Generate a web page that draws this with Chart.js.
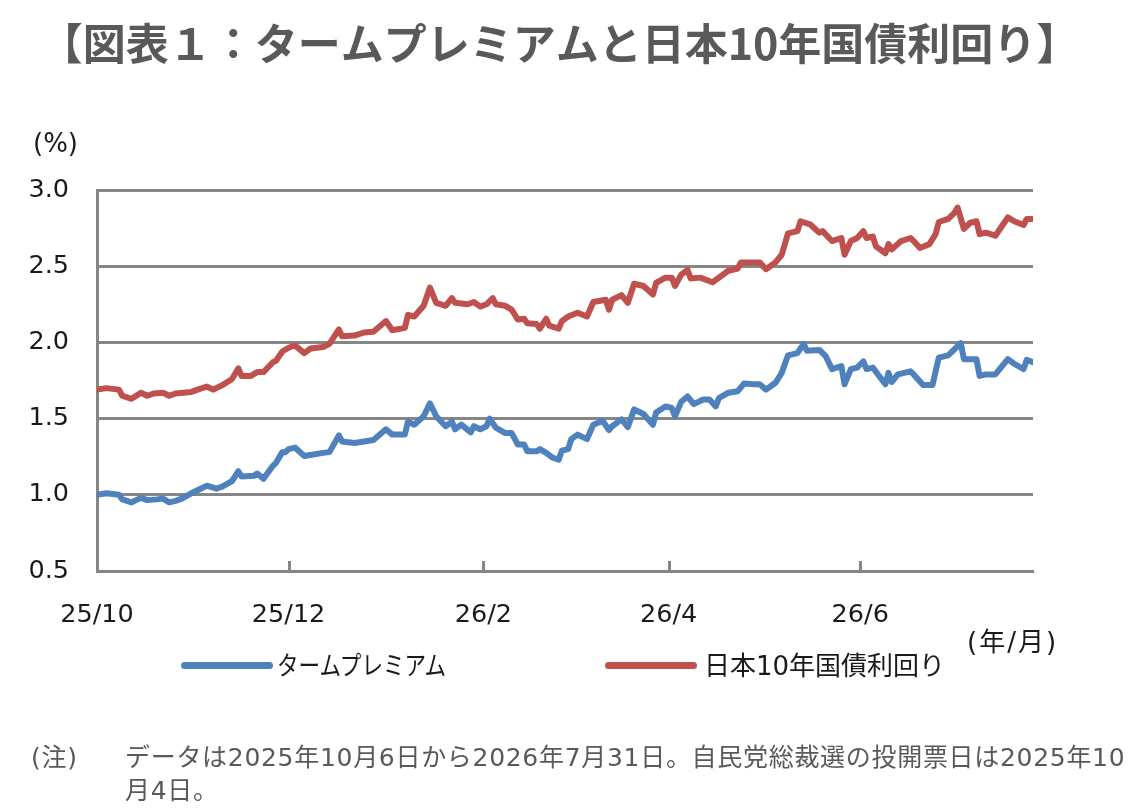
<!DOCTYPE html>
<html lang="ja">
<head>
<meta charset="utf-8">
<script src="https://cdn.jsdelivr.net/npm/chart.js@4.4.1/dist/chart.umd.min.js"></script>
<style>
html,body{margin:0;padding:0;background:#fff;}
#wrap{position:relative;width:1135px;height:808px;overflow:hidden;background:#fff;}
#chart{position:absolute;left:0;top:0;}
.t{position:absolute;white-space:nowrap;line-height:1;font-family:"DejaVu Sans","Noto Sans CJK JP",sans-serif;color:#1a1a1a;}
.unit{font-size:26px;}
.note{font-size:25px;color:#595959;letter-spacing:0.7px;}
.lgbar{position:absolute;height:7px;width:92px;border-radius:3.5px;top:662px;}
.lgtxt{font-size:26px;top:653px;transform-origin:left center;}
</style>
</head>
<body>
<div id="wrap">
<canvas id="chart" width="1135" height="808"></canvas>
<div class="t unit" style="left:33px;top:130px;">(%)</div>
<div class="t unit" style="left:967px;top:629px;letter-spacing:2px;">(年/月)</div>
<div id="legend"></div>
<div class="t note" style="left:31px;top:745px;">(注)</div>
<div class="t note" style="left:125px;top:745px;">データは2025年10月6日から2026年7月31日。自民党総裁選の投開票日は2025年10</div>
<div class="t note" style="left:125px;top:778px;">月4日。</div>
</div>
<script>
// ---- data (days counted from 2025-10-06) ----
const seriesNames = ['タームプレミアム', '日本10年国債利回り'];
const tickDays = [0, 61, 123, 182, 243];
const tickLabels = ['25/10', '25/12', '26/2', '26/4', '26/6'];
const yTickValues = [0.5, 1.0, 1.5, 2.0, 2.5, 3.0];

const tpDays = [
  0, 3, 7, 8, 11, 14, 16, 19, 21, 23,
  25, 27, 30, 33, 35, 38, 40, 43, 45, 46,
  50, 51, 53, 56, 57, 59, 60, 61, 63, 66,
  72, 74, 77, 78, 82, 85, 88, 92, 94, 98,
  99, 101, 104, 106, 108, 111, 113, 114, 116, 119,
  120, 122, 124, 125, 127, 130, 132, 134, 136, 137,
  140, 141, 143, 145, 147, 148, 150, 151, 153, 156,
  158, 161, 163, 164, 167, 169, 171, 174, 177, 178,
  181, 183, 184, 186, 188, 190, 193, 195, 197, 198,
  201, 204, 206, 209, 211, 213, 216, 218, 220, 223,
  225, 226, 230, 232, 234, 237, 238, 240, 242, 244,
  245, 247, 249, 251, 252, 253, 255, 259, 260, 263,
  266, 267, 268, 271, 273, 275, 276, 280, 281, 283,
  286, 290, 292, 295, 296, 298
];
const tpValues = [
  1.00, 1.01, 1.00, 0.97, 0.95, 0.98, 0.965, 0.97, 0.975, 0.95,
  0.96, 0.975, 1.01, 1.04, 1.06, 1.04, 1.055, 1.09, 1.155, 1.12,
  1.125, 1.14, 1.105, 1.19, 1.21, 1.28, 1.28, 1.30, 1.31, 1.255,
  1.275, 1.28, 1.39, 1.35, 1.34, 1.35, 1.36, 1.43, 1.395, 1.395,
  1.48, 1.46, 1.515, 1.60, 1.515, 1.45, 1.48, 1.43, 1.46, 1.41,
  1.45, 1.43, 1.45, 1.50, 1.44, 1.405, 1.405, 1.33, 1.33, 1.285,
  1.285, 1.30, 1.275, 1.245, 1.23, 1.29, 1.30, 1.365, 1.395, 1.365,
  1.46, 1.485, 1.425, 1.45, 1.495, 1.445, 1.56, 1.53, 1.46, 1.54,
  1.58, 1.57, 1.515, 1.61, 1.645, 1.595, 1.625, 1.625, 1.58, 1.635,
  1.67, 1.68, 1.73, 1.725, 1.725, 1.69, 1.735, 1.80, 1.915, 1.93,
  1.99, 1.945, 1.95, 1.91, 1.825, 1.845, 1.725, 1.825, 1.835, 1.875,
  1.825, 1.835, 1.78, 1.725, 1.80, 1.74, 1.79, 1.81, 1.79, 1.72,
  1.72, 1.81, 1.90, 1.915, 1.955, 1.995, 1.89, 1.89, 1.78, 1.79,
  1.79, 1.89, 1.86, 1.825, 1.885, 1.87
];

const jgbDays = [
  0, 3, 7, 8, 11, 14, 16, 18, 21, 23,
  25, 30, 32, 35, 37, 40, 43, 45, 46, 49,
  51, 53, 56, 57, 59, 61, 63, 66, 68, 72,
  74, 77, 78, 82, 85, 88, 92, 94, 98, 99,
  101, 104, 106, 108, 111, 113, 114, 118, 120, 122,
  124, 126, 127, 130, 132, 134, 136, 137, 140, 141,
  143, 144, 147, 148, 150, 153, 156, 158, 162, 163,
  164, 167, 169, 171, 174, 177, 178, 181, 183, 184,
  186, 188, 189, 192, 196, 198, 201, 204, 205, 209,
  211, 213, 216, 218, 220, 223, 224, 227, 230, 231,
  234, 237, 238, 240, 242, 244, 245, 247, 248, 251,
  252, 253, 256, 259, 260, 262, 265, 267, 268, 271,
  273, 274, 276, 278, 280, 281, 283, 286, 290, 292,
  295, 296, 298
];
const jgbValues = [
  1.69, 1.70, 1.69, 1.65, 1.63, 1.67, 1.65, 1.665, 1.67, 1.65,
  1.665, 1.675, 1.69, 1.71, 1.69, 1.72, 1.76, 1.83, 1.78, 1.78,
  1.805, 1.805, 1.87, 1.88, 1.94, 1.965, 1.98, 1.93, 1.96, 1.97,
  1.99, 2.085, 2.04, 2.045, 2.065, 2.07, 2.14, 2.08, 2.095, 2.18,
  2.17, 2.24, 2.36, 2.26, 2.24, 2.29, 2.26, 2.25, 2.265, 2.235,
  2.25, 2.29, 2.25, 2.24, 2.215, 2.15, 2.155, 2.125, 2.12, 2.09,
  2.155, 2.11, 2.09, 2.14, 2.17, 2.195, 2.17, 2.265, 2.28, 2.215,
  2.28, 2.31, 2.26, 2.385, 2.37, 2.315, 2.39, 2.425, 2.425, 2.37,
  2.445, 2.475, 2.42, 2.425, 2.395, 2.425, 2.47, 2.485, 2.525, 2.525,
  2.525, 2.48, 2.525, 2.575, 2.715, 2.73, 2.795, 2.775, 2.72, 2.73,
  2.665, 2.685, 2.575, 2.665, 2.685, 2.73, 2.685, 2.695, 2.63, 2.585,
  2.645, 2.61, 2.665, 2.685, 2.665, 2.62, 2.645, 2.71, 2.79, 2.81,
  2.85, 2.885, 2.745, 2.785, 2.795, 2.71, 2.72, 2.70, 2.82, 2.795,
  2.77, 2.81, 2.81
];

// ---- styling ----
const gridColor = '#868686';
const labelFont = { family: "'DejaVu Sans', sans-serif", size: 25.5 };

const innerTicks = {
  id: 'innerTicks',
  beforeDatasetsDraw(chart) {
    const { ctx, chartArea } = chart;
    const xs = chart.scales.x;
    ctx.save();
    ctx.strokeStyle = gridColor;
    ctx.lineWidth = 3;
    xs.ticks.forEach((t, i) => {
      if (i === 0) return;
      const px = Math.round(xs.getPixelForValue(t.value)) + 0.5;
      ctx.beginPath();
      ctx.moveTo(px, chartArea.bottom);
      ctx.lineTo(px, chartArea.bottom - 10);
      ctx.stroke();
    });
    ctx.restore();
  }
};

const toPoints = (days, vals) => days.map((d, i) => ({ x: d, y: vals[i] }));

const chart = new Chart(document.getElementById('chart'), {
  type: 'line',
  data: {
    datasets: [
      {
        label: seriesNames[0],
        data: toPoints(tpDays, tpValues),
        borderColor: '#4F81BD',
        backgroundColor: '#4F81BD',
        borderWidth: 6,
        pointRadius: 0,
        tension: 0,
        borderJoinStyle: 'round',
        borderCapStyle: 'round'
      },
      {
        label: seriesNames[1],
        data: toPoints(jgbDays, jgbValues),
        borderColor: '#C0504D',
        backgroundColor: '#C0504D',
        borderWidth: 6,
        pointRadius: 0,
        tension: 0,
        borderJoinStyle: 'round',
        borderCapStyle: 'round'
      }
    ]
  },
  options: {
    responsive: false,
    animation: false,
    layout: { padding: { left: 0, right: 16, top: 0, bottom: 167 } },
    plugins: {
      legend: { display: false },
      tooltip: { enabled: false },
      title: {
        display: true,
        text: '【図表１：タームプレミアムと日本10年国債利回り】',
        color: '#595959',
        font: { family: "'Noto Sans CJK JP', sans-serif", size: 43, weight: 'bold', lineHeight: 1.2 },
        padding: { top: 18, bottom: 120.4 }
      }
    },
    scales: {
      x: {
        type: 'linear',
        min: 0,
        max: 298,
        afterBuildTicks: s => { s.ticks = tickDays.map(v => ({ value: v })); },
        ticks: {
          callback: (v, i) => tickLabels[i],
          autoSkip: false,
          maxRotation: 0,
          font: labelFont,
          color: '#1a1a1a',
          padding: 21
        },
        grid: { display: false },
        border: { display: true, color: gridColor, width: 3 },
        afterFit: s => { s.height = 70; }
      },
      y: {
        type: 'linear',
        min: 0.5,
        max: 3.0,
        afterBuildTicks: s => { s.ticks = yTickValues.map(v => ({ value: v })); },
        ticks: {
          callback: v => v.toFixed(1),
          font: labelFont,
          color: '#1a1a1a',
          padding: 28
        },
        grid: { color: gridColor, lineWidth: 3, drawTicks: false },
        border: { display: true, color: gridColor, width: 3 },
        afterFit: s => { s.width = 97; }
      },
      yR: {
        type: 'linear',
        position: 'right',
        display: true,
        grid: { display: false },
        border: { display: false },
        ticks: { display: false },
        afterFit: s => { s.width = 86; }
      }
    }
  },
  plugins: [innerTicks]
});

// ---- HTML legend built from the chart datasets ----
const legendEl = document.getElementById('legend');
const barLeft = [181, 605];
const textLeft = [277, 704];
const textScale = [0.83, 1];
chart.data.datasets.forEach((ds, i) => {
  const bar = document.createElement('div');
  bar.className = 'lgbar';
  bar.style.left = barLeft[i] + 'px';
  bar.style.background = ds.borderColor;
  legendEl.appendChild(bar);
  const txt = document.createElement('div');
  txt.className = 't lgtxt';
  txt.style.left = textLeft[i] + 'px';
  txt.style.transform = 'scaleX(' + textScale[i] + ')';
  txt.textContent = ds.label;
  legendEl.appendChild(txt);
});
</script>
</body>
</html>
